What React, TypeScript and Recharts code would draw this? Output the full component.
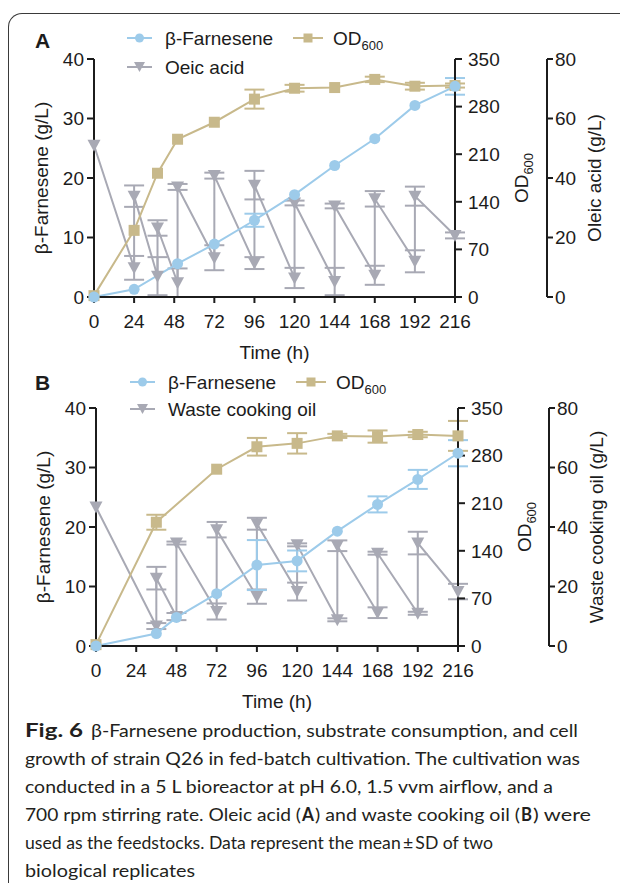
import React from 'react';
import { LineChart, Line, XAxis, YAxis, ErrorBar } from 'recharts';

const FONT = '"Liberation Sans", Arial, Helvetica, sans-serif';
const CAP_FONT = 'Lato, "Open Sans", sans-serif';
const BLUE = '#9dcbea';
const TAN = '#c8b98b';
const GREY = '#a8a9b4';
const INK = '#1c1c1c';

const timeTicks = [0, 24, 48, 72, 96, 120, 144, 168, 192, 216];
const farneseneTicks = [0, 10, 20, 30, 40];
const odTicks = [0, 70, 140, 210, 280, 350];
const substrateTicks = [0, 20, 40, 60, 80];

// Panel A (oleic acid)
const farnTimeA = [0, 24, 50, 72, 96, 120, 144, 168, 192, 216];
const farnValA = [0, 1.3, 5.6, 8.9, 12.9, 17.2, 22.1, 26.6, 32.2, 35.4];
const farnErrA = [0, 0, 0, 0, 1.1, 0, 0, 0, 0, 1.4];
const odTimeA = [0, 24, 38, 50, 72, 96, 120, 144, 168, 192, 216];
const odValA = [2, 98, 182, 232, 257, 291, 307, 308, 320, 310, 311];
const odErrA = [0, 0, 0, 0, 0, 14, 5, 0, 4, 5, 3];
const oleicTimeA = [0, 24, 24, 38, 38, 50, 50, 72, 72, 96, 96, 120, 120, 144, 144, 168, 168, 192, 192, 216];
const oleicValA = [51, 9.8, 33.9, 7, 23.2, 4.8, 37, 13.2, 40.8, 11.4, 37.6, 6.4, 31.6, 5.2, 30.6, 7.3, 33, 12, 33.9, 20.7];
const oleicErrA = [0, 4, 3.6, 6.4, 2.6, 4.8, 1, 4.2, 1, 2, 4.8, 3.4, 0.8, 4.6, 0.8, 3.2, 2.6, 3.7, 3.2, 1];

// Panel B (waste cooking oil)
const farnTimeB = [0, 36, 48, 72, 96, 120, 144, 168, 192, 216];
const farnValB = [0, 2.1, 4.8, 8.8, 13.6, 14.3, 19.3, 23.8, 28.0, 32.4];
const farnErrB = [0, 0, 0, 0, 4.2, 1.75, 0, 1.35, 1.6, 2.2];
const odTimeB = [0, 36, 72, 96, 120, 144, 168, 192, 216];
const odValB = [2, 182, 260, 293, 298, 309, 308, 311, 309];
const odErrB = [0, 11, 0, 13, 15, 3, 9, 4, 22];
const wcoTimeB = [0, 36, 36, 48, 48, 72, 72, 96, 96, 120, 120, 144, 144, 168, 168, 192, 192, 216];
const wcoValB = [46.7, 6.7, 22.8, 9.9, 34.6, 11.6, 39.1, 16.6, 41.1, 18.3, 34, 8.8, 33.7, 11.2, 31.2, 11, 34.6, 18.3];
const wcoErrB = [0, 1, 3.8, 1.2, 0.5, 2.7, 2.6, 2.4, 2, 3, 0.5, 0.5, 1.8, 1.8, 0.5, 0.5, 3.8, 2.6];

const captionLines = [
  'growth of strain Q26 in fed-batch cultivation. The cultivation was',
  'conducted in a 5 L bioreactor at pH 6.0, 1.5 vvm airflow, and a',
  'used as the feedstocks. Data represent the mean\u2009\u00b1\u2009SD of two',
  'biological replicates',
];

type Pt = { t: number; v: number; e: number };
const toPts = (ts: number[], vs: number[], es: number[]): Pt[] =>
  ts.map((t, i) => ({ t, v: vs[i], e: es[i] }));

const circleDot = (p: any) =>
  p.cx == null ? null : <circle key={`c${p.index}`} cx={p.cx} cy={p.cy} r={5.5} fill={BLUE} />;
const squareDot = (p: any) =>
  p.cx == null ? null : <rect key={`s${p.index}`} x={p.cx - 5.5} y={p.cy - 5.5} width={11} height={11} fill={TAN} />;
const triDot = (p: any) =>
  p.cx == null ? null : (
    <path key={`t${p.index}`} d={`M${p.cx - 6.5},${p.cy - 5.5}L${p.cx + 6.5},${p.cy - 5.5}L${p.cx},${p.cy + 6.5}Z`} fill={GREY} />
  );

const axisStroke = { stroke: INK, strokeWidth: 2 };
const tickStyle = { fill: INK, fontSize: 19, fontFamily: FONT };

type PanelProps = {
  top: number;
  letter: string;
  letterY: number;
  row1: number;
  row2: number;
  leftX: number;
  odX: number;
  subX: number;
  legendDx: number;
  farn: Pt[];
  od: Pt[];
  sub: Pt[];
  subLegend: string;
  subTitle: string;
};

function Panel({ top, letter, letterY, row1, row2, leftX, odX, subX, legendDx, farn, od, sub, subLegend, subTitle }: PanelProps) {
  const W = 620;
  const H = 372;
  const plotTop = 59;
  const plotBottom = 297;
  const midY = (plotTop + plotBottom) / 2;
  const lx = 127 + legendDx;
  return (
    <div style={{ position: 'absolute', left: 0, top, width: W, height: H }}>
      <LineChart width={W} height={H} margin={{ top: plotTop, right: 0, bottom: 0, left: 0 }}>
        <XAxis
          dataKey="t"
          type="number"
          domain={[0, 216]}
          ticks={timeTicks}
          interval={0}
          height={H - plotBottom}
          tickSize={6}
          tickMargin={12}
          axisLine={axisStroke}
          tickLine={axisStroke}
          tick={tickStyle}
        />
        <YAxis
          yAxisId="a_left"
          orientation="left"
          width={leftX}
          domain={[0, 40]}
          ticks={farneseneTicks}
          interval={0}
          tickSize={7}
          tickMargin={3}
          axisLine={axisStroke}
          tickLine={axisStroke}
          tick={tickStyle}
        />
        <YAxis
          yAxisId="b_od"
          orientation="right"
          width={subX - odX}
          domain={[0, 350]}
          ticks={odTicks}
          interval={0}
          tickSize={7}
          tickMargin={6}
          axisLine={axisStroke}
          tickLine={axisStroke}
          tick={tickStyle}
        />
        <YAxis
          yAxisId="c_sub"
          orientation="right"
          width={W - subX}
          domain={[0, 80]}
          ticks={substrateTicks}
          interval={0}
          tickSize={6}
          tickMargin={2}
          axisLine={axisStroke}
          tickLine={axisStroke}
          tick={tickStyle}
        />
        <Line
          yAxisId="c_sub"
          data={sub}
          dataKey="v"
          type="linear"
          stroke={GREY}
          strokeWidth={2}
          dot={triDot}
          activeDot={false}
          isAnimationActive={false}
        >
          <ErrorBar dataKey="e" direction="y" width={10} strokeWidth={2} stroke={GREY} isAnimationActive={false} />
        </Line>
        <Line
          yAxisId="b_od"
          data={od}
          dataKey="v"
          type="linear"
          stroke={TAN}
          strokeWidth={2}
          dot={squareDot}
          activeDot={false}
          isAnimationActive={false}
        >
          <ErrorBar dataKey="e" direction="y" width={10} strokeWidth={2} stroke={TAN} isAnimationActive={false} />
        </Line>
        <Line
          yAxisId="a_left"
          data={farn}
          dataKey="v"
          type="linear"
          stroke={BLUE}
          strokeWidth={2}
          dot={circleDot}
          activeDot={false}
          isAnimationActive={false}
        >
          <ErrorBar dataKey="e" direction="y" width={10} strokeWidth={2} stroke={BLUE} isAnimationActive={false} />
        </Line>
      </LineChart>
      <svg
        width={W}
        height={H}
        style={{ position: 'absolute', left: 0, top: 0, pointerEvents: 'none' }}
        fontFamily={FONT}
        fill={INK}
      >
        <text x={35} y={letterY} fontSize={21} fontWeight="bold">{letter}</text>
        <g>
          <line x1={lx} x2={lx + 25} y1={row1} y2={row1} stroke={BLUE} strokeWidth={2} />
          <circle cx={lx + 12.5} cy={row1} r={4.5} fill={BLUE} />
          <text x={lx + 38} y={row1 + 7} fontSize={19}>β-Farnesene</text>
          <line x1={lx + 166} x2={lx + 196} y1={row1} y2={row1} stroke={TAN} strokeWidth={2} />
          <rect x={lx + 176.5} y={row1 - 4.5} width={9} height={9} fill={TAN} />
          <text x={lx + 206} y={row1 + 7} fontSize={19}>
            OD<tspan fontSize={13} dy={5}>600</tspan>
          </text>
          <line x1={lx} x2={lx + 25} y1={row2} y2={row2} stroke={GREY} strokeWidth={2} />
          <path d={`M${lx + 7},${row2 - 5}L${lx + 18},${row2 - 5}L${lx + 12.5},${row2 + 5}Z`} fill={GREY} />
          <text x={lx + 38} y={row2 + 7} fontSize={19}>{subLegend}</text>
        </g>
        <text x={leftX - 46} y={midY} fontSize={19} textAnchor="middle" transform={`rotate(-90 ${leftX - 46} ${midY})`}>
          β-Farnesene (g/L)
        </text>
        <text x={odX + 73} y={midY} fontSize={19} textAnchor="middle" transform={`rotate(-90 ${odX + 73} ${midY})`}>
          OD<tspan fontSize={13} dy={5}>600</tspan>
        </text>
        <text x={subX + 54} y={midY} fontSize={19} textAnchor="middle" transform={`rotate(-90 ${subX + 54} ${midY})`}>
          {subTitle}
        </text>
        <text x={(leftX + odX) / 2} y={359} fontSize={19} textAnchor="middle">Time (h)</text>
      </svg>
    </div>
  );
}

export default function App() {
  const capX = 25;
  const base = 737;
  const lh = 28;
  const l4 = base + lh * 3;
  return (
    <div style={{ position: 'absolute', left: 0, top: 0, width: 620, height: 883, overflow: 'hidden', background: '#fff' }}>
      <div
        style={{
          position: 'absolute',
          left: 8,
          top: 13,
          width: 700,
          height: 1000,
          borderLeft: '1.3px solid #3a3a3a',
          borderTop: '1.3px solid #3a3a3a',
          borderTopLeftRadius: 14,
        }}
      />
      <Panel
        top={0}
        letter="A"
        letterY={48}
        row1={38}
        row2={67}
        leftX={94}
        odX={455}
        subX={547}
        legendDx={0}
        farn={toPts(farnTimeA, farnValA, farnErrA)}
        od={toPts(odTimeA, odValA, odErrA)}
        sub={toPts(oleicTimeA, oleicValA, oleicErrA)}
        subLegend="Oeic acid"
        subTitle="Oleic acid (g/L)"
      />
      <Panel
        top={349}
        letter="B"
        letterY={41}
        row1={33}
        row2={60}
        leftX={96}
        odX={458}
        subX={549}
        legendDx={3}
        farn={toPts(farnTimeB, farnValB, farnErrB)}
        od={toPts(odTimeB, odValB, odErrB)}
        sub={toPts(wcoTimeB, wcoValB, wcoErrB)}
        subLegend="Waste cooking oil"
        subTitle="Waste cooking oil (g/L)"
      />
      <svg width={620} height={883} style={{ position: 'absolute', left: 0, top: 0 }} fontFamily={CAP_FONT} fontSize={18} fill="#231f20">
        <text x={capX} y={base} fontSize={19} fontWeight="bold" textLength={58} lengthAdjust="spacingAndGlyphs">Fig. 6</text>
        <text x={capX + 66} y={base} textLength={487} lengthAdjust="spacingAndGlyphs">β-Farnesene production, substrate consumption, and cell</text>
        <text x={capX} y={base + lh} textLength={555} lengthAdjust="spacingAndGlyphs">{captionLines[0]}</text>
        <text x={capX} y={base + lh * 2} textLength={528} lengthAdjust="spacingAndGlyphs">{captionLines[1]}</text>
        <text x={capX} y={l4} textLength={276} lengthAdjust="spacingAndGlyphs">700 rpm stirring rate. Oleic acid (</text>
        <text x={302} y={l4} fontWeight="bold" textLength={12} lengthAdjust="spacingAndGlyphs">A</text>
        <text x={315} y={l4} textLength={205} lengthAdjust="spacingAndGlyphs">) and waste cooking oil (</text>
        <text x={521} y={l4} fontWeight="bold" textLength={11} lengthAdjust="spacingAndGlyphs">B</text>
        <text x={533} y={l4} textLength={58} lengthAdjust="spacingAndGlyphs">) were</text>
        <text x={capX} y={base + lh * 4} textLength={468} lengthAdjust="spacingAndGlyphs">{captionLines[2]}</text>
        <text x={capX} y={base + lh * 5} textLength={170} lengthAdjust="spacingAndGlyphs">{captionLines[3]}</text>
      </svg>
    </div>
  );
}
